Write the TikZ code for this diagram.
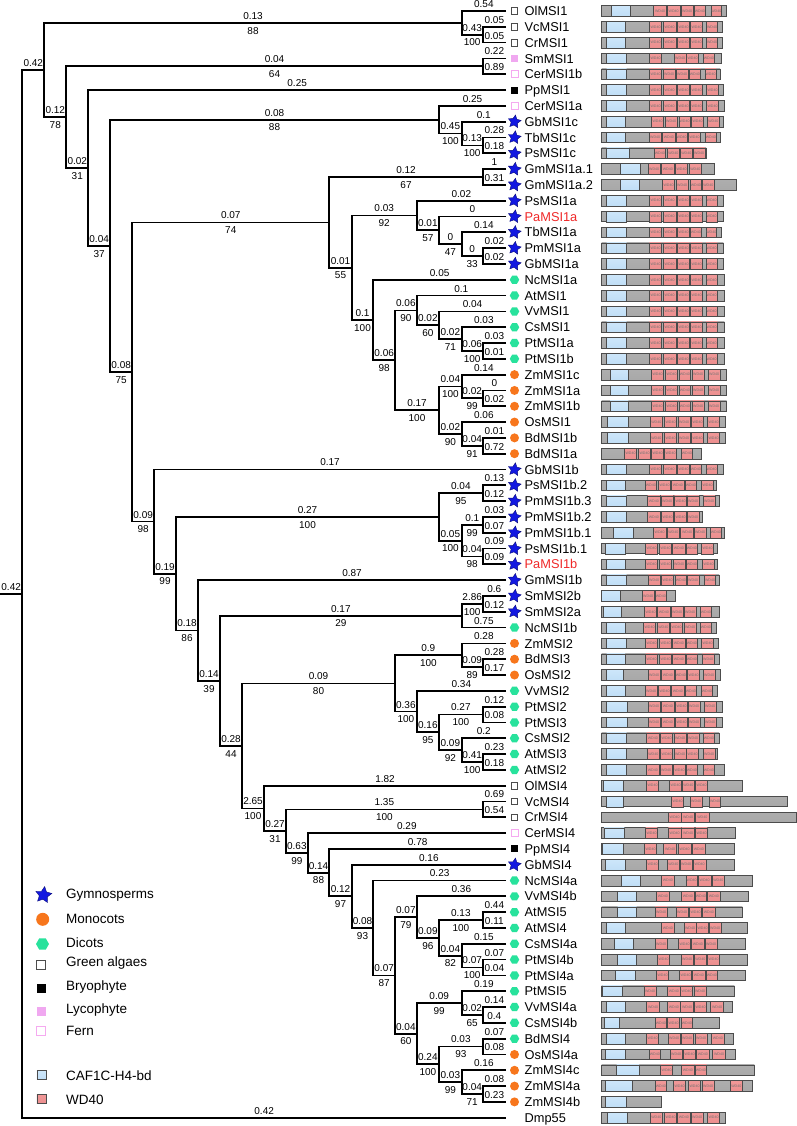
\documentclass[tikz,border=0pt]{standalone}
\usepackage{fontspec}
\setmainfont{Liberation Sans}
\usetikzlibrary{shapes.geometric,calc}
\definecolor{orangeM}{RGB}{247,118,28}
\definecolor{dicotG}{RGB}{40,226,156}
\definecolor{starB}{RGB}{18,24,225}
\definecolor{lycoP}{RGB}{240,168,240}
\definecolor{fernP}{RGB}{245,170,240}
\definecolor{cafT}{RGB}{205,230,250}
\definecolor{cafM}{RGB}{236,246,255}
\definecolor{cafB}{RGB}{192,222,246}
\definecolor{wdT}{RGB}{240,152,152}
\definecolor{wdM}{RGB}{250,192,192}
\definecolor{wdB}{RGB}{236,142,142}
\definecolor{redL}{RGB}{240,40,40}
\tikzset{
  br/.style={line width=1.75pt, black, line join=miter},
  bl/.style={anchor=south, inner xsep=0pt, inner ysep=2.6pt, font=\fontsize{10}{12}\selectfont},
  bb/.style={anchor=north, inner xsep=0pt, inner ysep=3.4pt, font=\fontsize{10}{12}\selectfont},
  leaf/.style={anchor=base west, inner sep=0pt, font=\fontsize{12.8}{14}\selectfont},
  legt/.style={anchor=base west, inner sep=0pt, font=\fontsize{13.5}{15}\selectfont},
  sym-g/.style={rectangle, draw=black!70, fill=white, minimum size=6.5pt, inner sep=0pt, line width=0.7pt},
  sym-b/.style={rectangle, fill=black, minimum size=7pt, inner sep=0pt},
  sym-l/.style={rectangle, fill=lycoP, minimum size=7pt, inner sep=0pt},
  sym-f/.style={rectangle, draw=fernP, fill=white, minimum size=7pt, inner sep=0pt, line width=0.8pt},
  sym-s/.style={star, star points=5, star point ratio=2.0, fill=starB, draw=starB!55!black, minimum size=13.5pt, inner sep=0pt, line width=0.4pt, rotate=-8},
  sym-m/.style={circle, fill=orangeM, minimum size=9pt, inner sep=0pt},
  sym-d/.style={regular polygon, regular polygon sides=6, fill=dicotG, minimum size=9.5pt, inner sep=0pt},
  sym-n/.style={shape=coordinate},
  barst/.style={draw=black!70, line width=0.7pt, top color=black!32, middle color=black!6, bottom color=black!34},
  cafst/.style={draw=black!70, line width=0.6pt, top color=cafT, middle color=cafM, bottom color=cafB},
  wdst/.style={draw=black!70, line width=0.6pt, top color=wdT, middle color=wdM, bottom color=wdB},
  wdtx/.style={inner sep=0pt, text=black!55, font=\fontsize{3.6}{4}\selectfont}
}
\newcommand{\clade}[8]{%
  \path let \p1=(#3), \p2=(#6) in (#2pt,{0.5*(\y1+\y2)}) coordinate (#1);
  \draw[br] (#3) -- node[bl] (#1ta) {#4} node[bb] (#1ba) {#5} (#1 |- #3) -- (#1 |- #6) -- node[bl] (#1tb) {#7} node[bb] (#1bb) {#8} (#6);
}
\newcommand{\dbar}[5]{%
  \pgfmathsetmacro{\ry}{11+(#1-1)*15.81}%
  \draw[barst] (665,\ry-5.3) rectangle (#2,\ry+5.3);
  \draw[cafst] (#3,\ry-5.3) rectangle (#4,\ry+5.3);
  \foreach \wa/\wb in {#5}{%
    \draw[wdst] (\wa,\ry-5.3) rectangle (\wb,\ry+5.3);
    \node[wdtx] (wd#1-\wa) at ({(\wa+\wb)/2},\ry) {WD40};
  }%
}
\newcommand{\dbarnb}[3]{%
  \pgfmathsetmacro{\ry}{11+(#1-1)*15.81}%
  \draw[barst] (665,\ry-5.3) rectangle (#2,\ry+5.3);
  \foreach \wa/\wb in {#3}{%
    \draw[wdst] (\wa,\ry-5.3) rectangle (\wb,\ry+5.3);
    \node[wdtx] (wd#1-\wa) at ({(\wa+\wb)/2},\ry) {WD40};
  }%
}
\begin{document}
\begin{tikzpicture}[x=1pt,y=-1pt]
\fill[white] (0,0) rectangle (797,1126);
\useasboundingbox (0,0) rectangle (797,1126);
% leaf coordinates
\foreach \i in {1,...,71}{\coordinate (L\i) at (506,{11+(\i-1)*15.81});}
% tree (post-order)
\clade{VC}{482.7}{L2}{0.05}{}{L3}{0.05}{}
\clade{CA}{461.7}{L1}{0.54}{}{VC}{0.43}{100}
\clade{SC}{482.7}{L4}{0.22}{}{L5}{0.89}{}
\clade{I}{482.7}{L9}{0.28}{}{L10}{0.18}{}
\clade{H}{461.7}{L8}{0.1}{}{I}{0.13}{100}
\clade{F}{439}{L7}{0.25}{}{H}{0.45}{100}
\clade{GM}{482.7}{L11}{1}{}{L12}{0.31}{}
\clade{NB}{482.7}{L16}{0.02}{}{L17}{0.02}{}
\clade{NC}{461.7}{L15}{0.14}{}{NB}{0}{33}
\clade{ND}{439}{L14}{0}{}{NC}{0}{47}
\clade{N}{416.7}{L13}{0.02}{}{ND}{0.01}{57}
\clade{QF}{482.7}{L22}{0.03}{}{L23}{0.01}{}
\clade{QE}{461.7}{L21}{0.03}{}{QF}{0.06}{100}
\clade{QD}{439}{L20}{0.04}{}{QE}{0.02}{71}
\clade{QB}{416.7}{L19}{0.1}{}{QD}{0.02}{60}
\clade{QI}{482.7}{L25}{0}{}{L26}{0.02}{}
\clade{QG}{461.7}{L24}{0.14}{}{QI}{0.02}{99}
\clade{QJ}{482.7}{L28}{0.01}{}{L29}{0.72}{}
\clade{QH}{461.7}{L27}{0.06}{}{QJ}{0.04}{91}
\clade{QC}{439}{QG}{0.04}{100}{QH}{0.02}{90}
\clade{QA}{395}{QB}{0.06}{90}{QC}{0.17}{100}
\clade{O}{373.3}{L18}{0.05}{}{QA}{0.06}{98}
\clade{M}{351.7}{N}{0.03}{92}{O}{0.1}{100}
\clade{J}{329.3}{GM}{0.12}{67}{M}{0.01}{55}
\clade{TA}{482.7}{L31}{0.13}{}{L32}{0.12}{}
\clade{TC}{482.7}{L33}{0.03}{}{L34}{0.07}{}
\clade{TD}{482.7}{L35}{0.09}{}{L36}{0.09}{}
\clade{TB}{461.7}{TC}{0.1}{99}{TD}{0.04}{98}
\clade{T}{439}{TA}{0.04}{95}{TB}{0.05}{100}
\clade{VA}{482.7}{L38}{0.6}{}{L39}{0.12}{}
\clade{V}{461.7}{VA}{2.86}{100}{L40}{0.75}{}
\clade{XB}{482.7}{L42}{0.28}{}{L43}{0.17}{}
\clade{XA}{461.7}{L41}{0.28}{}{XB}{0.09}{89}
\clade{XE}{482.7}{L45}{0.12}{}{L46}{0.08}{}
\clade{XG}{482.7}{L48}{0.23}{}{L49}{0.18}{}
\clade{XF}{461.7}{L47}{0.2}{}{XG}{0.41}{100}
\clade{XD}{439}{XE}{0.27}{100}{XF}{0.09}{92}
\clade{XC}{416.7}{L44}{0.34}{}{XD}{0.16}{95}
\clade{X}{395}{XA}{0.9}{100}{XC}{0.36}{100}
\clade{ZA}{482.7}{L51}{0.69}{}{L52}{0.54}{}
\clade{ZJ}{482.7}{L58}{0.44}{}{L59}{0.11}{}
\clade{ZL}{482.7}{L61}{0.07}{}{L62}{0.04}{}
\clade{ZK}{461.7}{L60}{0.15}{}{ZL}{0.07}{100}
\clade{ZI}{439}{ZJ}{0.13}{100}{ZK}{0.04}{82}
\clade{ZG}{416.7}{L57}{0.36}{}{ZI}{0.09}{96}
\clade{ZO}{482.7}{L64}{0.14}{}{L65}{0.4}{}
\clade{ZM}{461.7}{L63}{0.19}{}{ZO}{0.02}{65}
\clade{ZP}{482.7}{L66}{0.07}{}{L67}{0.08}{}
\clade{ZR}{482.7}{L69}{0.08}{}{L70}{0.23}{}
\clade{ZQ}{461.7}{L68}{0.16}{}{ZR}{0.04}{71}
\clade{ZN}{439}{ZP}{0.03}{93}{ZQ}{0.03}{99}
\clade{ZH}{416.7}{ZM}{0.09}{99}{ZN}{0.24}{100}
\clade{ZF}{395}{ZG}{0.07}{79}{ZH}{0.04}{60}
\clade{ZE}{373.3}{L56}{0.23}{}{ZF}{0.07}{87}
\clade{ZD}{351.7}{L55}{0.16}{}{ZE}{0.08}{93}
\clade{ZC}{329.3}{L54}{0.78}{}{ZD}{0.12}{97}
\clade{ZB}{307.7}{L53}{0.29}{}{ZC}{0.14}{88}
\clade{Z}{286}{ZA}{1.35}{100}{ZB}{0.63}{99}
\clade{Y}{264}{L50}{1.82}{}{Z}{0.27}{31}
\clade{W}{242}{X}{0.09}{80}{Y}{2.65}{100}
\clade{U}{220}{V}{0.17}{29}{W}{0.28}{44}
\clade{S}{198}{L37}{0.87}{}{U}{0.14}{39}
\clade{Lc}{176}{T}{0.27}{100}{S}{0.18}{86}
\clade{K}{154}{L30}{0.17}{}{Lc}{0.19}{99}
\clade{G}{132.3}{J}{0.07}{74}{K}{0.09}{98}
\clade{E}{110}{F}{0.08}{88}{G}{0.08}{75}
\clade{D}{88.3}{L6}{0.25}{}{E}{0.04}{37}
\clade{B}{66.3}{SC}{0.04}{64}{D}{0.02}{31}
\clade{A}{44.3}{CA}{0.13}{88}{B}{0.12}{78}
\clade{R}{22.3}{A}{0.42}{}{L71}{0.42}{}
\path let \p1=(R) in (0pt,\y1) coordinate (R0);
\draw[br] (R0) -- node[bl] (rootlab) {0.42} (R);
% leaf symbols and labels
\foreach \i/\nm/\sy/\cl in {1/OlMSI1/g/black,2/VcMSI1/g/black,3/CrMSI1/g/black,4/SmMSI1/l/black,5/CerMSI1b/f/black,6/PpMSI1/b/black,7/CerMSI1a/f/black,8/GbMSI1c/s/black,9/TbMSI1c/s/black,10/PsMSI1c/s/black,11/GmMSI1a.1/s/black,12/GmMSI1a.2/s/black,13/PsMSI1a/s/black,14/PaMSI1a/s/redL,15/TbMSI1a/s/black,16/PmMSI1a/s/black,17/GbMSI1a/s/black,18/NcMSI1a/d/black,19/AtMSI1/d/black,20/VvMSI1/d/black,21/CsMSI1/d/black,22/PtMSI1a/d/black,23/PtMSI1b/d/black,24/ZmMSI1c/m/black,25/ZmMSI1a/m/black,26/ZmMSI1b/m/black,27/OsMSI1/m/black,28/BdMSI1b/m/black,29/BdMSI1a/m/black,30/GbMSI1b/s/black,31/PsMSI1b.2/s/black,32/PmMSI1b.3/s/black,33/PmMSI1b.2/s/black,34/PmMSI1b.1/s/black,35/PsMSI1b.1/s/black,36/PaMSI1b/s/redL,37/GmMSI1b/s/black,38/SmMSI2b/s/black,39/SmMSI2a/s/black,40/NcMSI1b/d/black,41/ZmMSI2/m/black,42/BdMSI3/m/black,43/OsMSI2/m/black,44/VvMSI2/d/black,45/PtMSI2/d/black,46/PtMSI3/d/black,47/CsMSI2/d/black,48/AtMSI3/d/black,49/AtMSI2/d/black,50/OlMSI4/g/black,51/VcMSI4/g/black,52/CrMSI4/g/black,53/CerMSI4/f/black,54/PpMSI4/b/black,55/GbMSI4/s/black,56/NcMSI4a/d/black,57/VvMSI4b/d/black,58/AtMSI5/d/black,59/AtMSI4/d/black,60/CsMSI4a/d/black,61/PtMSI4b/d/black,62/PtMSI4a/d/black,63/PtMSI5/d/black,64/VvMSI4a/d/black,65/CsMSI4b/d/black,66/BdMSI4/d/black,67/OsMSI4a/m/black,68/ZmMSI4c/m/black,69/ZmMSI4a/m/black,70/ZmMSI4b/m/black,71/Dmp55/n/black}{%
  \pgfmathsetmacro{\ly}{11+(\i-1)*15.81}%
  \node[sym-\sy] (sy\i) at (514.5,\ly) {};
  \node[leaf, text=\cl] (nm\i) at (524.5,\ly+4.6) {\nm};
}
% domain bars
\begin{scope}[xshift=380pt, x=0.333333pt]
\dbar{1}{1040}{695}{750}{820/860,862/900,903/940,942/977,993/1025}
\dbar{2}{1027}{678}{737}{808/845,850/888,893/928,932/967,980/1012}
\dbar{3}{1027}{678}{737}{808/845,850/888,893/928,932/967,980/1012}
\dbar{4}{1023}{680}{740}{808/845,883/918,920/955,970/1003}
\dbar{5}{1020}{680}{740}{808/845,850/885,888/925,927/962,975/1008}
\dbar{6}{1030}{680}{740}{808/845,850/888,893/928,932/967,980/1015}
\dbar{7}{1032}{680}{740}{808/845,850/888,893/928,932/967,980/1015}
\dbar{8}{1030}{680}{737}{815/850,855/892,897/930,935/970,982/1018}
\dbar{9}{1022}{680}{735}{808/843,848/885,888/922,925/962,975/1010}
\dbar{10}{978}{680}{747}{822/857,862/898,900/938,940/975}
\dbar{11}{1003}{722}{782}{805/840,845/882,887/922,927/965}
\dbar{12}{1068}{720}{778}{848/883,888/925,930/965,968/1002}
\dbar{13}{1030}{680}{740}{808/845,850/888,893/928,932/967,978/1012}
\dbar{14}{1030}{680}{740}{808/845,850/888,893/928,932/967,978/1012}
\dbar{15}{1025}{680}{740}{808/845,850/888,893/928,930/965,978/1010}
\dbar{16}{1030}{680}{740}{808/845,850/888,893/928,932/967,978/1012}
\dbar{17}{1030}{680}{740}{808/845,850/888,893/928,932/967,978/1012}
\dbar{18}{1033}{680}{740}{808/845,850/888,893/928,932/967,978/1012}
\dbar{19}{1033}{680}{740}{808/845,850/888,893/928,932/967,978/1012}
\dbar{20}{1033}{680}{740}{808/845,850/888,893/928,932/967,978/1012}
\dbar{21}{1033}{680}{740}{808/845,850/888,893/928,932/967,978/1012}
\dbar{22}{1033}{680}{740}{808/845,850/888,893/928,932/967,978/1012}
\dbar{23}{1033}{680}{740}{808/845,850/888,893/928,932/967,978/1012}
\dbar{24}{1040}{690}{745}{815/850,857/893,897/932,937/972,985/1020}
\dbar{25}{1040}{690}{745}{815/850,857/893,897/932,937/972,985/1020}
\dbar{26}{1040}{690}{745}{815/850,857/893,897/932,937/972,985/1020}
\dbar{27}{1037}{683}{745}{810/848,853/890,895/930,935/970,983/1018}
\dbar{28}{1037}{683}{745}{810/848,853/890,895/930,935/970,983/1018}
\dbarnb{29}{965}{733/770,775/812,815/850,853/890,903/938}
\dbar{30}{1030}{680}{740}{808/845,850/888,893/928,930/965,978/1012}
\dbar{31}{1010}{680}{737}{795/830,835/872,875/912,915/950,965/1000}
\dbar{32}{1018}{680}{740}{803/840,843/880,883/920,922/957,970/1005}
\dbar{33}{967}{680}{740}{803/840,845/880,883/920,922/957}
\dbar{34}{1033}{700}{760}{820/858,862/898,902/940,942/978,990/1025}
\dbar{35}{1012}{675}{735}{797/833,838/875,878/915,918/953,965/1000}
\dbar{36}{1012}{680}{737}{797/833,838/875,880/915,918/953,968/1003}
\dbar{37}{1017}{680}{740}{805/840,845/880,885/920,922/957,973/1007}
\dbar{38}{885}{665}{722}{787/822,825/860}
\dbar{39}{1017}{670}{725}{793/830,833/870,873/910,913/948,960/995}
\dbar{40}{1010}{680}{737}{790/827,832/868,872/908,912/948,960/995}
\dbar{41}{1015}{680}{740}{797/833,838/875,878/915,918/953,965/1000}
\dbar{42}{1017}{680}{735}{797/833,838/875,878/915,918/953,967/1002}
\dbar{43}{1020}{680}{730}{805/840,845/882,885/920,923/958,970/1005}
\dbar{44}{1012}{680}{737}{795/832,835/872,875/912,915/950,963/998}
\dbar{45}{1027}{680}{742}{805/840,845/882,887/922,925/960,973/1008}
\dbar{46}{1027}{680}{742}{805/840,845/882,887/922,925/960,973/1008}
\dbar{47}{1017}{680}{740}{800/837,842/878,882/918,922/957,970/1003}
\dbar{48}{1012}{680}{740}{802/838,842/878,882/918,920/955,970/1005}
\dbar{49}{1033}{678}{740}{800/837,840/877,880/917,918/953,970/1003}
\dbar{50}{1087}{670}{730}{800/835,868/905,907/943,947/983}
\dbar{51}{1223}{680}{730}{875/910,930/967,988/1022}
\dbarnb{52}{1250}{865/903,905/943,947/987}
\dbar{53}{1067}{672}{733}{797/832,865/903,905/943,947/982}
\dbar{54}{1062}{668}{730}{793/830,850/890,895/933,938/975}
\dbar{55}{1062}{675}{737}{800/835,862/898,900/937,940/978}
\dbar{56}{1117}{725}{782}{845/882,918/952,955/993,997/1033}
\dbar{57}{1105}{712}{770}{830/867,905/942,945/980,983/1020}
\dbar{58}{1087}{713}{770}{825/862,888/925,928/965,968/1005}
\dbar{59}{1103}{678}{737}{845/882,912/948,950/985,988/1023}
\dbar{60}{1095}{702}{760}{825/862,895/932,935/972,975/1012}
\dbar{61}{1102}{712}{770}{833/868,903/940,942/980,983/1018}
\dbar{62}{1097}{707}{767}{830/865,898/935,938/975,978/1013}
\dbar{63}{1063}{668}{728}{792/828,863/900,902/938,942/978}
\dbar{64}{1058}{678}{737}{800/838,863/900,902/940,943/980,992/1030}
\dbar{65}{1018}{672}{718}{825/860,863/898,903/938}
\dbar{66}{1060}{678}{735}{800/835,865/900,903/940,945/982,995/1032}
\dbar{67}{1067}{675}{735}{807/842,870/907,910/947,950/987,997/1037}
\dbar{68}{1123}{710}{777}{842/878,905/942,945/980}
\dbar{69}{1117}{675}{758}{825/860,880/917,925/962,967/1002,1050/1088}
\pgfmathsetmacro{\ry}{11+69*15.81}
\draw[barst] (665,\ry-5.3) rectangle (843,\ry+5.3);
\draw[cafst] (675,\ry-5.3) rectangle (740,\ry+5.3);
\dbar{71}{1037}{683}{743}{810/848,853/890,893/930,933/970,983/1018}
\end{scope}
% legend
\node[sym-s, minimum size=17pt] (lg1) at (43.5,895) {};
\node[legt] (lt1) at (66,898.5) {Gymnosperms};
\node[sym-m, minimum size=13pt] (lg2) at (42.7,919.3) {};
\node[legt] (lt2) at (66,923) {Monocots};
\node[sym-d, minimum size=13pt] (lg3) at (42.5,944) {};
\node[legt] (lt3) at (66,947) {Dicots};
\node[sym-g, minimum size=9pt] (lg4) at (41.3,964.5) {};
\node[legt] (lt4) at (66,966.5) {Green algaes};
\node[sym-b, minimum size=9pt] (lg5) at (41.3,988) {};
\node[legt] (lt5) at (66,990) {Bryophyte};
\node[sym-l, minimum size=9pt] (lg6) at (41.3,1011) {};
\node[legt] (lt6) at (66,1013) {Lycophyte};
\node[sym-f, minimum size=9pt] (lg7) at (41.3,1031) {};
\node[legt] (lt7) at (66,1035) {Fern};
\node[cafst, rectangle, minimum size=9pt, inner sep=0pt] (lg8) at (41.3,1075) {};
\node[legt] (lt8) at (66,1080) {CAF1C-H4-bd};
\node[wdst, rectangle, minimum size=9pt, inner sep=0pt] (lg9) at (41.3,1099) {};
\node[legt] (lt9) at (66,1104) {WD40};
\end{tikzpicture}
\end{document}
